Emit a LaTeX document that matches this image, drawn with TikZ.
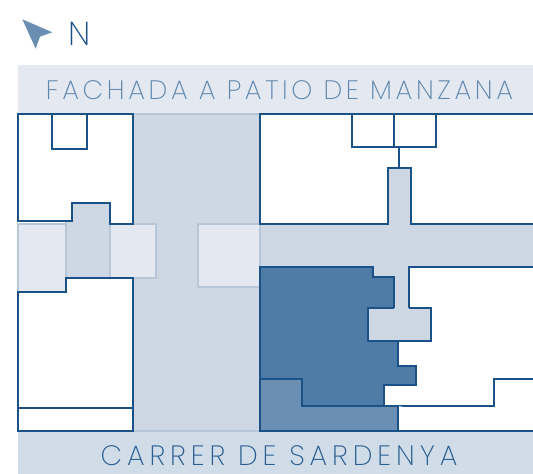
\documentclass[tikz,border=0pt]{standalone}
\usepackage{fontspec}
\setmainfont{Poppins ExtraLight}
\newfontfamily\patiofont{Poppins ExtraLight}[LetterSpace=13.6]
\newfontfamily\streetfont{Poppins ExtraLight}[LetterSpace=17.6]
\usetikzlibrary{positioning}
\definecolor{linecol}{HTML}{1A5288}
\definecolor{palecol}{HTML}{E4E9F1}
\definecolor{midcol}{HTML}{CDD8E4}
\definecolor{bandcol}{HTML}{D0DCE8}
\definecolor{edgecol}{HTML}{B7C7D9}
\definecolor{darkcol}{HTML}{4F7CA6}
\definecolor{softcol}{HTML}{6A8FB3}
\tikzset{
    wall/.style={draw=linecol, line width=1.2pt, line join=miter},
    room/.style={wall, fill=white},
    court/.style={wall, fill=midcol},
    pale/.style={draw=edgecol, line width=1pt, fill=palecol},
    plain/.style={draw=edgecol, line width=1pt, fill=midcol},
    title/.style={inner sep=0pt}
}
\begin{document}
\begin{tikzpicture}[x=0.75pt, y=-0.75pt]
    \useasboundingbox (0,0) rectangle (533,474);

    % Bands at top and bottom
    \fill [palecol] (18,65) rectangle (533,114);
    \fill [bandcol] (18,431) rectangle (533,474);

    % Street and courtyard
    \path [plain] (133,114) rectangle (260,431);
    \fill [midcol] (260,224) rectangle (533,267);
    \fill [midcol] (373,266) rectangle (409,310);
    \path [plain] (66,203) rectangle (110,278);
    \path [pale] (18,224) -- (66,224) -- (66,292) -- (18,292) -- cycle;
    \path [pale] (110,224) rectangle (156,278);
    \path [pale] (198,224) rectangle (260,287);

    % Left blocks
    \path [room] (18,114) -- (133,114) -- (133,224) -- (110,224) -- (110,203)
        -- (72,203) -- (72,221) -- (18,221) -- cycle;
    \draw [wall] (52,114) -- (52,149) -- (87,149) -- (87,114);
    \path [room] (66,278) -- (133,278) -- (133,431) -- (18,431) -- (18,292)
        -- (66,292) -- cycle;
    \draw [wall] (18,408) -- (133,408);

    % Upper right block
    \path [room] (533,114) -- (260,114) -- (260,224) -- (388,224) -- (388,168)
        -- (411,168) -- (411,224) -- (533,224);
    \path [court] (388,224) -- (388,168) -- (411,168) -- (411,224);
    \draw [wall] (352,114) -- (352,147) -- (436,147) -- (436,114);
    \draw [wall] (394,114) -- (394,147);
    \draw [wall] (399,147) -- (399,168);

    % Lower right block
    \path [room] (533,267) -- (409,267) -- (409,308) -- (431,308) -- (431,341)
        -- (398,341) -- (398,366) -- (416,366) -- (416,385) -- (384,385)
        -- (384,406) -- (494,406) -- (494,379) -- (533,379);
    \path [room] (398,406) -- (398,431) -- (533,431);

    % Dwelling and its terrace
    \path [wall, fill=softcol] (260,379) -- (302,379) -- (302,406) -- (398,406)
        -- (398,431) -- (260,431) -- cycle;
    \path [wall, fill=darkcol] (260,267) -- (373,267) -- (373,277) -- (394,277)
        -- (394,308) -- (368,308) -- (368,341) -- (398,341) -- (398,366)
        -- (416,366) -- (416,385) -- (384,385) -- (384,406) -- (302,406)
        -- (302,379) -- (260,379) -- cycle;

    % Patch between the two
    \fill [midcol] (368,308) rectangle (431,341);
    \draw [wall] (394,308) -- (368,308) -- (368,341) -- (431,341) -- (431,308)
        -- (409,308);

    % North arrow
    \fill [softcol] (22.3,19.3) -- (52.3,32.3) -- (40,36.7) -- (35.7,48.7) -- cycle;
    \node [title, text=linecol, font=\fontsize{25}{25}\selectfont] (north) at (79.5,34) {N};

    % Labels
    \node [title, text=softcol!85!linecol, font=\patiofont\fontsize{20}{20}\selectfont] (patio) at (279.5,90) {FACHADA A PATIO DE MANZANA};
    \node [title, text=softcol!20!linecol, font=\streetfont\fontsize{21}{21}\selectfont] (street) at (279,456) {CARRER DE SARDENYA};
\end{tikzpicture}
\end{document}
